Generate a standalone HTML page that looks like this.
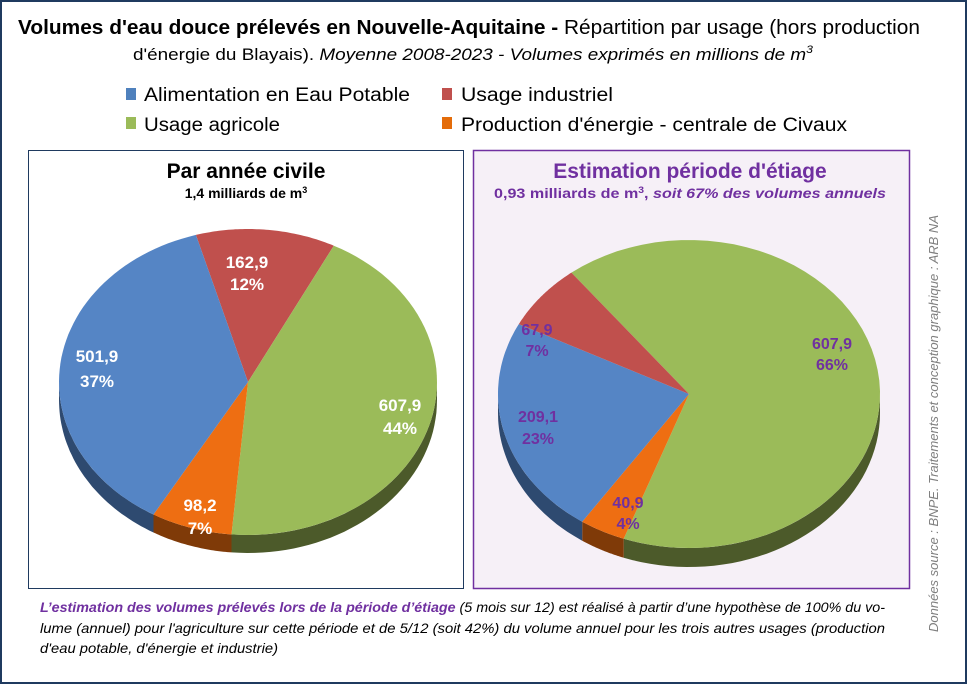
<!DOCTYPE html>
<html><head><meta charset="utf-8"><style>
html,body{margin:0;padding:0;background:#fff}
svg{display:block}
text{font-family:"Liberation Sans",sans-serif}
</style></head><body>
<svg id="s" width="967" height="684" viewBox="0 0 967 684" xmlns="http://www.w3.org/2000/svg">
<rect x="1" y="1" width="965" height="682" fill="#fff" stroke="#1f3a5f" stroke-width="2"/>
<text x="18" y="34" font-size="20" textLength="902" lengthAdjust="spacingAndGlyphs"><tspan font-weight="bold">Volumes d'eau douce prélevés en Nouvelle-Aquitaine - </tspan>Répartition par usage (hors production</text>
<text x="133" y="60" font-size="17" textLength="680" lengthAdjust="spacingAndGlyphs">d'énergie du Blayais). <tspan font-style="italic">Moyenne 2008-2023 - Volumes exprimés en millions de m</tspan><tspan font-style="italic" font-size="11" dy="-7">3</tspan></text>
<rect x="126" y="88" width="10" height="12" fill="#4f81bd"/>
<text x="144" y="101" font-size="19" textLength="266" lengthAdjust="spacingAndGlyphs">Alimentation en Eau Potable</text>
<rect x="442" y="88" width="10" height="12" fill="#c0504d"/>
<text x="461" y="101" font-size="19" textLength="152" lengthAdjust="spacingAndGlyphs">Usage industriel</text>
<rect x="126" y="117" width="10" height="12" fill="#9bbb59"/>
<text x="144" y="131" font-size="19" textLength="136" lengthAdjust="spacingAndGlyphs">Usage agricole</text>
<rect x="442" y="117" width="10" height="12" fill="#e46c0a"/>
<text x="461" y="131" font-size="19" textLength="386" lengthAdjust="spacingAndGlyphs">Production d'énergie - centrale de Civaux</text>
<rect x="28.5" y="150.5" width="435" height="438" fill="#fff" stroke="#1f3a5f" stroke-width="1"/>
<rect x="473.5" y="150.5" width="436" height="438" fill="#f6f0f7" stroke="#7030a0" stroke-width="1.5"/>
<text x="246" y="178" font-size="21" font-weight="bold" text-anchor="middle">Par année civile</text>
<text x="246" y="198" font-size="14" font-weight="bold" text-anchor="middle">1,4 milliards de m<tspan font-size="9" dy="-5">3</tspan></text>
<text x="690" y="178" font-size="21" font-weight="bold" text-anchor="middle" fill="#7030a0">Estimation période d'étiage</text>
<text x="690" y="198" font-size="14" font-weight="bold" text-anchor="middle" fill="#7030a0" textLength="392" lengthAdjust="spacingAndGlyphs">0,93 milliards de m<tspan font-size="9" dy="-5">3</tspan><tspan dy="5">, </tspan><tspan font-style="italic">soit 67% des volumes annuels</tspan></text>
<g id="pies"></g>
<g font-size="17" font-weight="bold" fill="#fff" text-anchor="middle">
<text x="247" y="268">162,9</text><text x="247" y="290">12%</text>
<text x="400" y="411">607,9</text><text x="400" y="434">44%</text>
<text x="200" y="511">98,2</text><text x="200" y="534">7%</text>
<text x="97" y="362">501,9</text><text x="97" y="387">37%</text>
</g>
<g font-size="16" font-weight="bold" fill="#7030a0" text-anchor="middle">
<text x="537" y="335">67,9</text><text x="537" y="356">7%</text>
<text x="832" y="349">607,9</text><text x="832" y="370">66%</text>
<text x="538" y="422">209,1</text><text x="538" y="444">23%</text>
<text x="628" y="508">40,9</text><text x="628" y="529">4%</text>
</g>
<text transform="translate(938,632) rotate(-90)" font-size="13" font-style="italic" fill="#7f7f7f" textLength="417" lengthAdjust="spacingAndGlyphs">Données  source : BNPE. Traitements  et conception  graphique : ARB NA</text>
<g font-size="14" font-style="italic">
<text x="40" y="612" textLength="845" lengthAdjust="spacingAndGlyphs"><tspan fill="#7030a0" font-weight="bold">L’estimation des volumes prélevés lors de la période d’étiage</tspan> (5 mois sur 12) est réalisé à partir d’une hypothèse de 100% du vo-</text>
<text x="40" y="633" textLength="845" lengthAdjust="spacingAndGlyphs">lume (annuel)  pour l'agriculture sur cette période et de 5/12 (soit 42%) du volume annuel  pour les trois autres usages (production</text>
<text x="40" y="653" textLength="238" lengthAdjust="spacingAndGlyphs">d'eau potable, d'énergie  et industrie)</text>
</g>
</svg>
<script>
(function(){
var NS="http://www.w3.org/2000/svg",g=document.getElementById("pies");
function pt(p,a,dy){var r=a*Math.PI/180;return [p.cx+p.rx*Math.sin(r),p.cy-p.ry*Math.cos(r)+(dy||0)];}
function pie(p,sl){
 // sides
 sl.forEach(function(s){
  var a1=Math.max(s.a1,90),a2=Math.min(s.a2,270);
  if(a2<=a1)return;
  var d="",i,n=40,pts=[];
  for(i=0;i<=n;i++)pts.push(pt(p,a1+(a2-a1)*i/n,0));
  for(i=n;i>=0;i--)pts.push(pt(p,a1+(a2-a1)*i/n,p.d));
  d="M"+pts.map(function(q){return q[0].toFixed(1)+","+q[1].toFixed(1)}).join("L")+"Z";
  var e=document.createElementNS(NS,"path");e.setAttribute("d",d);e.setAttribute("fill",s.dk);g.appendChild(e);
 });
 sl.forEach(function(s){
  var pts=[[p.cx,p.cy]],n=60,i;
  for(i=0;i<=n;i++)pts.push(pt(p,s.a1+(s.a2-s.a1)*i/n,0));
  var d="M"+pts.map(function(q){return q[0].toFixed(1)+","+q[1].toFixed(1)}).join("L")+"Z";
  var e=document.createElementNS(NS,"path");e.setAttribute("d",d);e.setAttribute("fill",s.c);g.appendChild(e);
 });
}
var B={c:"#5585c5",dk:"#2e4a70"},R={c:"#c0504d",dk:"#7a2f2d"},G={c:"#9bbb59",dk:"#4c5a2a"},O={c:"#ee6e12",dk:"#7f3a08"};
function s(o,a1,a2){return {c:o.c,dk:o.dk,a1:a1,a2:a2};}
pie({cx:248,cy:382,rx:189,ry:153,d:18},[s(R,-16,27),s(G,27,185),s(O,185,210),s(B,210,344)]);
pie({cx:689,cy:394,rx:191,ry:154,d:19},[s(G,-38,200),s(O,200,214),s(B,214,297),s(R,297,322)]);
})();
</script>
</body></html>
